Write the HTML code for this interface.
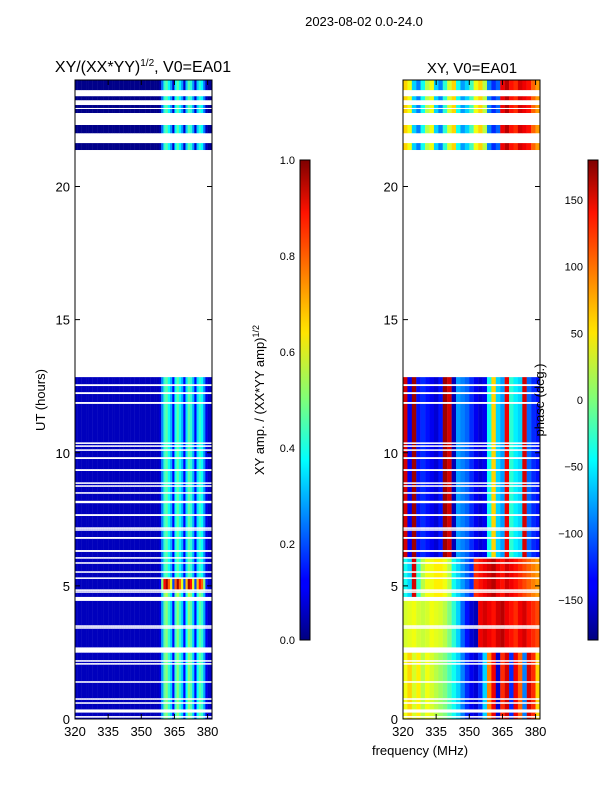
<!DOCTYPE html>
<html><head><meta charset="utf-8"><style>
body{margin:0;background:#fff;width:600px;height:800px;overflow:hidden}
text{font-family:"Liberation Sans","DejaVu Sans",sans-serif}
</style></head><body>
<svg id="s" width="600" height="800" xmlns="http://www.w3.org/2000/svg">
<defs><linearGradient id="jet" x1="0" y1="1" x2="0" y2="0">
<stop offset="0" stop-color="#00007f"/><stop offset="0.11" stop-color="#0000ff"/><stop offset="0.125" stop-color="#0000ff"/><stop offset="0.34" stop-color="#00dcff"/><stop offset="0.375" stop-color="#00ffff"/><stop offset="0.5" stop-color="#7dff7a"/><stop offset="0.64" stop-color="#ffe500"/><stop offset="0.66" stop-color="#ffd700"/><stop offset="0.89" stop-color="#ff1200"/><stop offset="1" stop-color="#7f0000"/></linearGradient></defs>
<text x="364" y="26" font-size="13" text-anchor="middle">2023-08-02 0.0-24.0</text>
<g id="amp"></g>
<g id="pha"></g>
<g id="axes"></g>
<rect x="300" y="160" width="10" height="480" fill="url(#jet)" stroke="#000" stroke-width="1"/>
<rect x="588" y="160" width="10" height="480" fill="url(#jet)" stroke="#000" stroke-width="1"/>
<text transform="translate(264,400) rotate(-90)" font-size="13" text-anchor="middle">XY amp. / (XX*YY amp)<tspan font-size="9" dy="-5">1/2</tspan></text>
<text transform="translate(544,400) rotate(-90)" font-size="13" text-anchor="middle">phase (deg.)</text>
<text x="143" y="72" font-size="16" text-anchor="middle">XY/(XX*YY)<tspan font-size="10" dy="-6">1/2</tspan><tspan dy="6">, V0=EA01</tspan></text>
<text x="472" y="73" font-size="15" text-anchor="middle">XY, V0=EA01</text>
<text transform="translate(45,400) rotate(-90)" font-size="13" text-anchor="middle">UT (hours)</text>
<text x="420" y="755" font-size="13" text-anchor="middle">frequency (MHz)</text>
</svg>
<script>
const yTicks=[0,5,10,15,20];
const xTicks=[320,335,350,365,380];
const ampTicks=[0.0,0.2,0.4,0.6,0.8,1.0];
const phaseTicks=[-150,-100,-50,0,50,100,150];
const validRanges=[[0,12.84],[21.37,21.63],[22.0,22.31],[22.76,23.06],[23.24,23.39],[23.62,24]];
const gaps=[[12.54,0.07],[12.24,0.07],[11.87,0.07],[10.36,0.06],[10.25,0.06],[10.10,0.06],[9.80,0.07],[9.35,0.07],[8.86,0.06],[8.75,0.06],[8.49,0.06],[8.15,0.09],[7.66,0.07],[7.17,0.06],[7.10,0.06],[6.80,0.07],[6.31,0.07],[6.05,0.06],[5.86,0.06],[5.52,0.06],[5.29,0.06],[4.84,0.06],[4.77,0.06],[4.51,0.15],[3.49,0.06],[3.42,0.06],[2.59,0.2],[2.18,0.06],[2.07,0.06],[1.39,0.06],[0.75,0.06],[0.60,0.06],[0.30,0.12],[0.08,0.06],[22.93,0.04]];
const ampProfile=[0,0,0,0,0,0,0,0,0,0,0,0,0,0,0,0,0,0,0,0,0,0,0,0,0,0,0,0,0,0,0,0,0,0,0,0,0,0,0.05,0.5,0.9,1,0.8,0.6,0.15,0.8,1,0.8,0.6,0.15,0.7,1,0.9,0.6,0.15,0.7,0.9,0.8,0.5,0.1,0.02,0.02];
const ampSegments=[[0,4.5,0.5,0.06],[4.5,4.95,0.55,0.06],[4.95,5.4,1.0,0.06],[5.4,12.84,0.45,0.06],[21.3,24,0.5,0.01]];
const phaseA=[40,60,30,50,20,40,30,20,10,0,-20,-40,-60,-90,-120,-140,-150,-120,-60,90,140,-150,120,150,-120,140,100,-90,150,120,60];
const phaseB=[30,35,40,30,25,30,40,35,30,20,0,-30,-60,-100,-130,-150,-160,140,150,140,130,150,160,140,130,120,140,150,130,120,110];
const phaseC=[-40,-60,150,-30,20,40,40,50,50,40,20,-40,-60,-80,-100,-120,120,130,140,150,160,140,130,150,140,130,120,110,100,90,80];
const phaseD=[150,-140,170,-130,-120,-130,-140,-150,-130,170,150,-160,-80,-90,-100,-120,-140,-150,-140,-40,60,-60,-80,140,-30,-50,-60,150,-100,-120,-130];
const phaseE=[60,40,-60,-90,-40,20,40,-60,-90,-30,30,60,-40,-80,-60,-20,40,60,20,-90,-120,-100,140,160,130,120,150,140,130,100,80];
const phaseSegments=[[0,2.6,phaseA],[2.6,4.5,phaseB],[4.5,6.0,phaseC],[6.0,12.84,phaseD],[21.3,24,phaseE]];

const NS='http://www.w3.org/2000/svg';
const svg=document.getElementById('s');
const F0=320,F1=382,H0=0,H1=24,PT=80,PB=719;
const yS=h=>PB-(h-H0)/(H1-H0)*(PB-PT);
const xS=(f,L)=>L+(f-F0)/(F1-F0)*137;
function jet(v){v=Math.max(0,Math.min(1,v));
 const r=Math.max(0,Math.min(1,1.5-Math.abs(4*v-3))),g=Math.max(0,Math.min(1,1.5-Math.abs(4*v-2))),b=Math.max(0,Math.min(1,1.5-Math.abs(4*v-1)));
 return `rgb(${Math.round(r*255)},${Math.round(g*255)},${Math.round(b*255)})`;}
function mk(tag,attrs,parent){const e=document.createElementNS(NS,tag);for(const k in attrs)e.setAttribute(k,attrs[k]);(parent||svg).appendChild(e);return e;}
let intervals=[];
validRanges.forEach(([a,b])=>{let cuts=[[a,b]];
 gaps.forEach(([g,w])=>{const g0=g-w/2,g1=g+w/2;let n=[];cuts.forEach(([c0,c1])=>{if(g1<=c0||g0>=c1){n.push([c0,c1]);return;}if(g0>c0)n.push([c0,g0]);if(g1<c1)n.push([g1,c1]);});cuts=n;});
 intervals=intervals.concat(cuts);});
const seg=(arr,h)=>arr.find(s=>h>=s[0]&&h<s[1])||arr[arr.length-1];
const gA=document.getElementById('amp'),gP=document.getElementById('pha');
intervals.forEach(([a,b])=>{const m=(a+b)/2;const y=yS(b),hh=yS(a)-yS(b);
 const as=seg(ampSegments,m);const sc=as[2],bg=as[3];const pp=seg(phaseSegments,m)[2];
 for(let c=0;c<62;c++){const f=F0+c;
  const r=mk('rect',{x:xS(f,75).toFixed(2),y:y.toFixed(2),width:2.4,height:hh.toFixed(2),fill:jet(bg+ampProfile[c]*sc*0.9)},gA);
  
  }
 for(let c=0;c<31;c++){const f=F0+2*c;
  const r=mk('rect',{x:xS(f,403).toFixed(2),y:y.toFixed(2),width:4.6,height:hh.toFixed(2),fill:jet((pp[c]+180)/360)},gP);
  
  }
});
const ax=document.getElementById('axes');
[75,403].forEach((L,i)=>{
 const fr=mk('rect',{x:L,y:PT,width:137,height:PB-PT,fill:'none',stroke:'#000','stroke-width':1},ax);
 
 
 yTicks.forEach(t=>{const y=yS(t);
  mk('line',{x1:L,x2:L+5,y1:y,y2:y,stroke:'#000'},ax);mk('line',{x1:L+132,x2:L+137,y1:y,y2:y,stroke:'#000'},ax);
  const tx=mk('text',{x:L-5,y:y+5,'font-size':13,'text-anchor':'end'},ax);tx.textContent=t;
  
  });
 xTicks.forEach(t=>{const x=xS(t,L);
  mk('line',{x1:x,x2:x,y1:PB,y2:PB-5,stroke:'#000'},ax);mk('line',{x1:x,x2:x,y1:PT,y2:PT+5,stroke:'#000'},ax);
  const tx=mk('text',{x:x,y:PB+17,'font-size':13,'text-anchor':'middle'},ax);tx.textContent=t;
  
  });
});
ampTicks.forEach(t=>{const y=640-t*480;
 mk('line',{x1:300,x2:303,y1:y,y2:y,stroke:'#000'},ax);mk('line',{x1:307,x2:310,y1:y,y2:y,stroke:'#000'},ax);
 const tx=mk('text',{x:295,y:y+4,'font-size':11,'text-anchor':'end'},ax);tx.textContent=t.toFixed(1);
 
 });
phaseTicks.forEach(t=>{const y=640-(t+180)/360*480;
 mk('line',{x1:588,x2:591,y1:y,y2:y,stroke:'#000'},ax);mk('line',{x1:595,x2:598,y1:y,y2:y,stroke:'#000'},ax);
 const tx=mk('text',{x:583,y:y+4,'font-size':11,'text-anchor':'end'},ax);tx.textContent=t<0?'\u2212'+(-t):t;
 
 });
</script>
</body></html>
